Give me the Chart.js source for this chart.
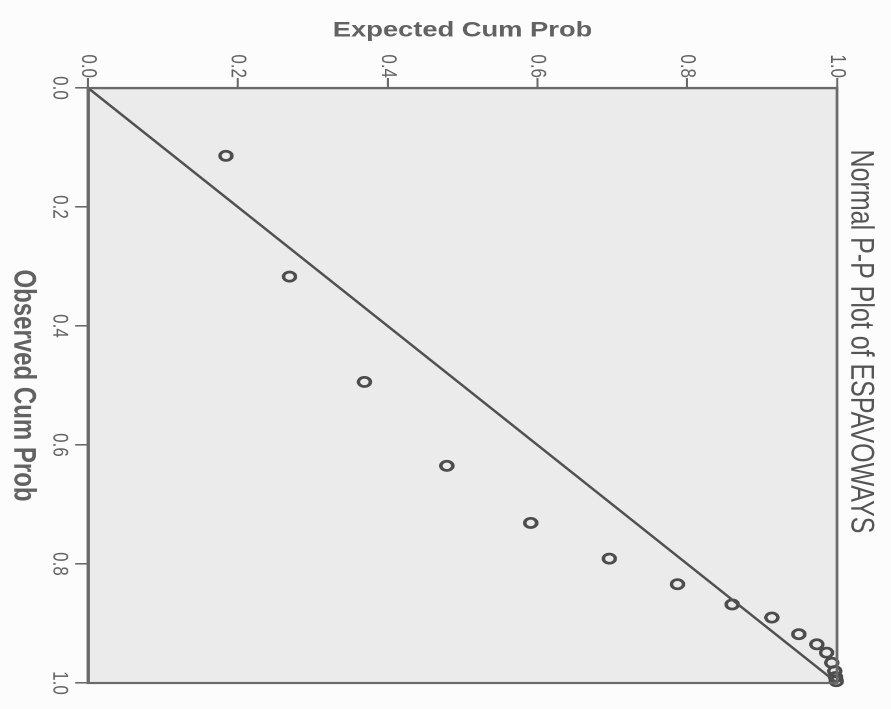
<!DOCTYPE html>
<html lang="en">
<head>
  <title>Normal P-P Plot of ESPAVOWAYS</title>
  <script src="https://cdn.jsdelivr.net/npm/chart.js"></script>
  <style>
    html, body { margin: 0; padding: 0; background: #fcfcfc; }
    body { width: 891px; height: 709px; overflow: hidden; position: relative; }
    /* the scanned chart is turned a quarter turn clockwise and stretched along its y axis */
    #wrap {
      position: absolute; left: 0; top: 0;
      width: 709px; height: 685px;
      transform-origin: 0 0;
      transform: translate(891px, 0) rotate(90deg) scale(1, 1.3007);
    }
  </style>
</head>
<body>
  <div id="wrap">
    <canvas id="myChart" width="709" height="685"></canvas>
  </div>
  <script>
    // cumulative probabilities
    const observed = [0.114, 0.317, 0.494, 0.635, 0.731, 0.791, 0.834, 0.868, 0.890, 0.918, 0.935, 0.949, 0.966, 0.980, 0.990, 0.997];
    const expected = [0.184, 0.269, 0.369, 0.479, 0.591, 0.696, 0.787, 0.860, 0.913, 0.949, 0.973, 0.986, 0.993, 0.997, 0.998, 0.999];
    const refLine = [0, 1];
    const tickValues = [0, 0.2, 0.4, 0.6, 0.8, 1.0];

    const grey = '#626262';
    const tickFont = { family: "'Liberation Sans Narrow', 'Liberation Sans', Arial, sans-serif", size: 17 };

    // plot background and box round the plot
    const frame = {
      id: 'frame',
      beforeDraw(chart) {
        const a = chart.chartArea, ctx = chart.ctx;
        ctx.save();
        ctx.fillStyle = '#ebebeb';
        ctx.fillRect(a.left, a.top, a.right - a.left, a.bottom - a.top);
        ctx.restore();
      },
      afterDraw(chart) {
        const a = chart.chartArea, ctx = chart.ctx;
        ctx.save();
        ctx.strokeStyle = '#6a6a6a';
        ctx.lineWidth = 2.2;
        ctx.strokeRect(a.left, a.top, a.right - a.left, a.bottom - a.top);
        ctx.restore();
      }
    };

    var ctx = document.getElementById('myChart').getContext('2d');
    var myChart = new Chart(ctx, {
      type: 'scatter',
      data: {
        datasets: [{
          type: 'line',
          label: 'Reference',
          data: refLine.map(v => ({ x: v, y: v })),
          borderColor: '#505050',
          borderWidth: 2.2,
          pointRadius: 0,
          fill: false
        }, {
          label: 'ESPAVOWAYS',
          data: observed.map((o, i) => ({ x: o, y: expected[i] })),
          pointStyle: 'circle',
          pointRadius: 4.6,
          pointBorderWidth: 2.7,
          pointBorderColor: '#4c4c4c',
          pointBackgroundColor: 'rgba(0,0,0,0)',
          clip: false
        }]
      },
      options: {
        responsive: false,
        animation: false,
        devicePixelRatio: 2,
        layout: { padding: { top: 0, left: 0, right: 26, bottom: 0 } },
        plugins: {
          legend: { display: false },
          tooltip: { enabled: false },
          title: {
            display: true,
            text: 'Normal P-P Plot of ESPAVOWAYS',
            color: '#555555',
            font: { family: "'Liberation Sans', Arial, sans-serif", size: 25, weight: 'normal' },
            padding: { top: 8.5, bottom: 3 }
          }
        },
        scales: {
          x: {
            type: 'linear',
            min: 0,
            max: 1,
            afterBuildTicks: s => { s.ticks = tickValues.map(v => ({ value: v })); },
            afterFit: s => { s.height = 67.7; },
            title: {
              display: true, text: 'Observed Cum Prob', color: grey,
              font: { family: "'Liberation Sans', Arial, sans-serif", size: 24, weight: 'bold' },
              padding: { top: 0, bottom: 3 }
            },
            ticks: { color: grey, font: tickFont, padding: 2, maxRotation: 0, callback: v => v.toFixed(1) },
            grid: { drawOnChartArea: false, drawTicks: true, tickLength: 10, color: '#6a6a6a', lineWidth: 1.6 },
            border: { display: true, color: '#6a6a6a', width: 2.2 }
          },
          y: {
            type: 'linear',
            min: 0,
            max: 1,
            afterBuildTicks: s => { s.ticks = tickValues.map(v => ({ value: v })); },
            afterFit: s => { s.width = 88; },
            title: {
              display: true, text: 'Expected Cum Prob', color: grey,
              font: { family: "'Liberation Sans', Arial, sans-serif", size: 21, weight: 'bold' },
              padding: { top: 18, bottom: 0 }
            },
            ticks: { color: grey, font: tickFont, padding: 0, callback: v => v.toFixed(1) },
            grid: { drawOnChartArea: false, drawTicks: true, tickLength: 10, color: '#6a6a6a', lineWidth: 1.6 },
            border: { display: true, color: '#6a6a6a', width: 2.2 }
          }
        }
      },
      plugins: [frame]
    });
  </script>
</body>
</html>
